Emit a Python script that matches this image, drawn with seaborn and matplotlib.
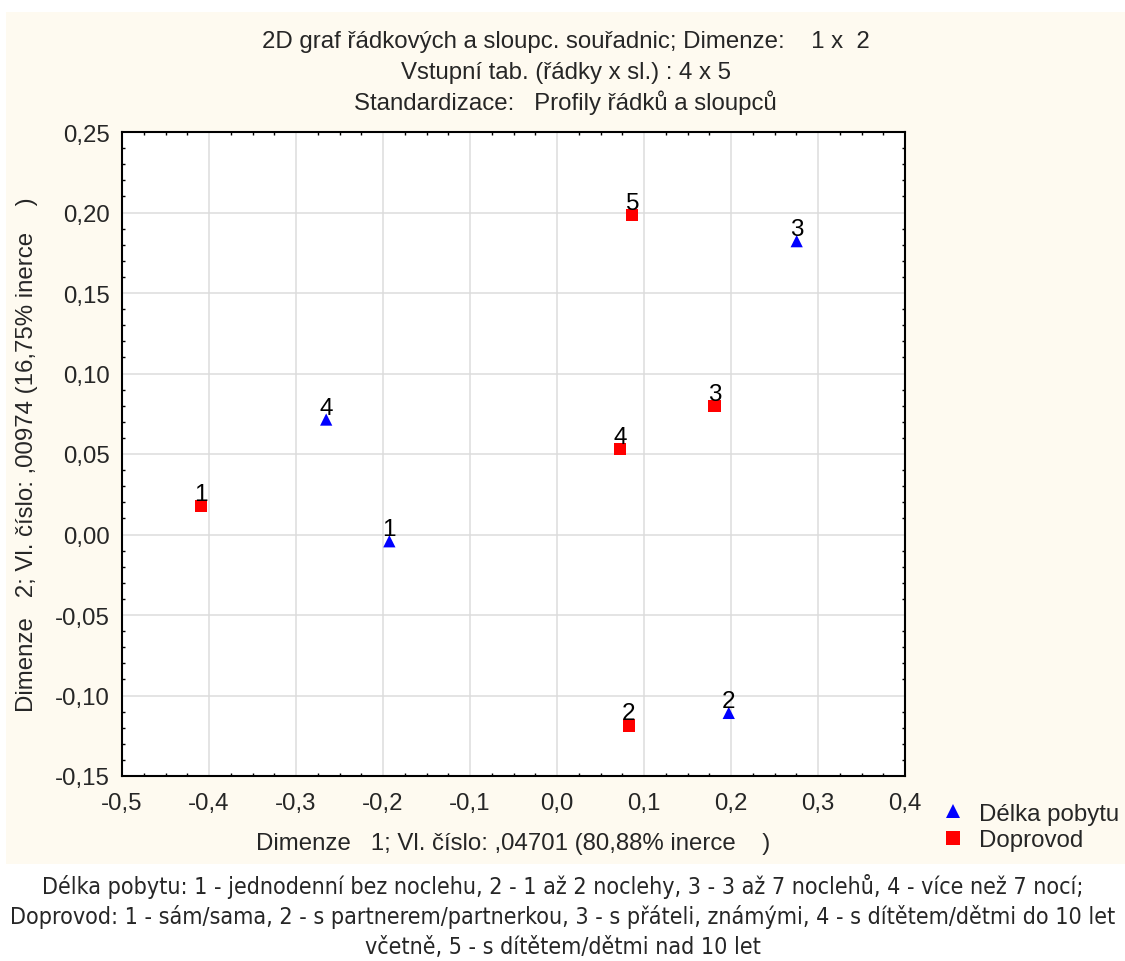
import matplotlib
matplotlib.use("Agg")
import matplotlib.pyplot as plt
import matplotlib.patches as mpatches
from matplotlib import font_manager as fm
from matplotlib.ticker import MultipleLocator, FixedLocator, FixedFormatter
import seaborn as sns
import pandas as pd

# ---------------- data ----------------
stay_labels = ["1", "2", "3", "4"]
stay_x = [-0.1927, 0.1974, 0.2755, -0.2653]
stay_y = [-0.0042, -0.1108, 0.1822, 0.0714]

comp_labels = ["1", "2", "3", "4", "5"]
comp_x = [-0.4093, 0.0826, 0.1811, 0.0722, 0.0865]
comp_y = [0.0175, -0.1186, 0.0800, 0.0531, 0.1985]

series_names = ["Délka pobytu", "Doprovod"]
series_colors = ["#0000FF", "#FF0000"]
series_markers = ["^", "s"]

x_ticks = [-0.5, -0.4, -0.3, -0.2, -0.1, 0.0, 0.1, 0.2, 0.3, 0.4]
x_ticklabels = ["-0,5", "-0,4", "-0,3", "-0,2", "-0,1", "0,0", "0,1", "0,2", "0,3", "0,4"]
y_ticks = [-0.15, -0.10, -0.05, 0.00, 0.05, 0.10, 0.15, 0.20, 0.25]
y_ticklabels = ["-0,15", "-0,10", "-0,05", "0,00", "0,05", "0,10", "0,15", "0,20", "0,25"]

title_lines = [
    "2D graf řádkových a sloupc. souřadnic; Dimenze:    1 x  2",
    "Vstupní tab. (řádky x sl.) : 4 x 5",
    "Standardizace:   Profily řádků a sloupců",
]
x_label = "Dimenze   1; Vl. číslo: ,04701 (80,88% inerce    )"
y_label = "Dimenze   2; Vl. číslo: ,00974 (16,75% inerce    )"
caption_lines = [
    "Délka pobytu: 1 - jednodenní bez noclehu, 2 - 1 až 2 noclehy, 3 - 3 až 7 noclehů, 4 - více než 7 nocí;",
    "Doprovod: 1 - sám/sama, 2 - s partnerem/partnerkou, 3 - s přáteli, známými, 4 - s dítětem/dětmi do 10 let",
    "včetně, 5 - s dítětem/dětmi nad 10 let",
]

df = pd.DataFrame({
    "x": stay_x + comp_x,
    "y": stay_y + comp_y,
    "label": stay_labels + comp_labels,
    "series": [series_names[0]] * len(stay_x) + [series_names[1]] * len(comp_x),
})

# ---------------- style ----------------
sns.set_style("white")
plt.rcParams["font.family"] = ["Liberation Sans", "DejaVu Sans"]
FS = 17.3

W, H = 1125, 962
fig = plt.figure(figsize=(W / 100, H / 100), dpi=100, facecolor="white")
cream = "#FEFAF0"
fig.add_artist(mpatches.Rectangle((6 / W, 1 - 865 / H), (W - 6) / W, (865 - 13) / H,
                                  transform=fig.transFigure, facecolor=cream,
                                  edgecolor="none", zorder=-10))

ax_l, ax_r, ax_t, ax_b = 122 / W, 905 / W, 133 / H, 777 / H
ax = fig.add_axes([ax_l, 1 - ax_b, ax_r - ax_l, ax_b - ax_t])
ax.set_facecolor("white")

sns.scatterplot(data=df, x="x", y="y", hue="series", style="series",
                palette=dict(zip(series_names, series_colors)),
                markers=dict(zip(series_names, series_markers)),
                s=78, linewidth=0, ax=ax, zorder=3)

for _, r in df.iterrows():
    ax.annotate(r["label"], (r["x"], r["y"]), xytext=(0, 4.3), textcoords="offset points",
                ha="center", va="baseline", fontsize=17.5, color="black", zorder=4)

ax.set_xlim(-0.5, 0.4)
ax.set_ylim(-0.15, 0.25)
ax.xaxis.set_major_locator(FixedLocator(x_ticks))
ax.xaxis.set_major_formatter(FixedFormatter(x_ticklabels))
ax.yaxis.set_major_locator(FixedLocator(y_ticks))
ax.yaxis.set_major_formatter(FixedFormatter(y_ticklabels))
ax.xaxis.set_minor_locator(MultipleLocator(0.025))
ax.yaxis.set_minor_locator(MultipleLocator(0.01))
ax.grid(True, which="major", color="#DCDCDC", linewidth=1.1, zorder=0)
ax.set_axisbelow(True)
for s in ax.spines.values():
    s.set_color("black")
    s.set_linewidth(1.5)
ax.tick_params(axis="both", which="major", direction="out", length=4, width=1,
               color="black", labelsize=FS, top=False, right=False)
ax.tick_params(axis="x", which="major", pad=7.8)
ax.tick_params(axis="y", which="major", pad=5)
ax.tick_params(axis="both", which="minor", direction="in", length=2.5, width=1,
               color="black", top=True, right=True, bottom=True, left=True)
ax.set_xlabel("")
ax.set_ylabel("")

handles, labels = ax.get_legend_handles_labels()
if ax.get_legend() is not None:
    ax.get_legend().remove()
fig.legend(handles, labels, loc="center left", bbox_to_anchor=(943 / W, 1 - 828 / H),
           frameon=False, fontsize=FS, handlelength=0.85, handletextpad=0.65,
           labelspacing=0.18, borderpad=0, borderaxespad=0, markerscale=1.1)

for i, line in enumerate(title_lines):
    fig.text(0.503, 1 - (42 + 30.5 * i) / H, line, ha="center", va="center", fontsize=FS)

fig.text(513.5 / W, 1 - 844 / H, x_label, ha="center", va="center", fontsize=FS)
fig.text(27 / W, 1 - 455 / H, y_label, ha="center", va="center", rotation=90, fontsize=FS)

# caption font: prefer a narrow family
names = {(f.name, f.stretch) for f in fm.fontManager.ttflist}
cap_kw = {"family": ["Lato", "DejaVu Sans"]}
if any(n == "Liberation Sans Narrow" for n, _ in names):
    cap_kw = {"family": ["Liberation Sans Narrow", "DejaVu Sans"]}
elif any(n == "DejaVu Sans" and st in ("condensed", "semi-condensed") for n, st in names):
    cap_kw = {"family": ["DejaVu Sans"], "stretch": "condensed"}

cap_texts = []
for i, line in enumerate(caption_lines):
    t = fig.text(0.5004, 1 - (887 + 30.5 * i) / H, line, ha="center", va="center",
                 fontsize=15, **cap_kw)
    cap_texts.append(t)
fig.canvas.draw()
rend = fig.canvas.get_renderer()
w0 = cap_texts[0].get_window_extent(rend).width
scale = 1047.0 / w0
for t in cap_texts:
    t.set_fontsize(15 * scale)

fig.savefig("out.png", dpi=100, facecolor="white")
